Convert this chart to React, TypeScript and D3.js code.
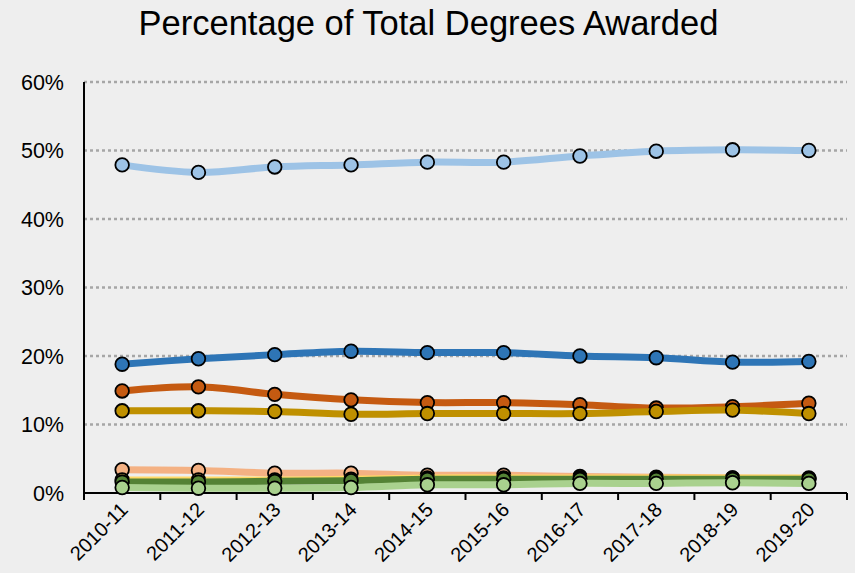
import React from "react";
import * as d3 from "d3";

const categories = ["2010-11", "2011-12", "2012-13", "2013-14", "2014-15", "2015-16", "2016-17", "2017-18", "2018-19", "2019-20"];
const lightBlue = [47.9, 46.8, 47.6, 47.9, 48.3, 48.3, 49.2, 49.9, 50.1, 50.0];
const darkBlue = [18.8, 19.6, 20.2, 20.7, 20.5, 20.5, 20.0, 19.75, 19.1, 19.2];
const orange = [14.9, 15.5, 14.4, 13.6, 13.2, 13.2, 12.9, 12.4, 12.6, 13.1];
const gold = [12.0, 12.0, 11.9, 11.5, 11.6, 11.6, 11.6, 11.9, 12.1, 11.6];
const peach = [3.4, 3.3, 2.9, 2.9, 2.6, 2.6, 2.4, 2.3, 2.2, 2.1];
const yellow = [1.9, 1.9, 1.9, 2.0, 2.2, 2.2, 2.2, 2.2, 2.2, 2.2];
const darkGreen = [1.6, 1.6, 1.7, 1.8, 2.0, 2.0, 2.0, 2.0, 2.0, 2.0];
const lightGreen = [0.8, 0.7, 0.7, 0.8, 1.2, 1.2, 1.4, 1.4, 1.5, 1.4];
const yTicks = [0, 10, 20, 30, 40, 50, 60];
const title = "Percentage of Total Degrees Awarded";

const series = [
  { name: "lightBlue", values: lightBlue, color: "#9DC3E6" },
  { name: "darkBlue", values: darkBlue, color: "#2E75B6" },
  { name: "orange", values: orange, color: "#C55A11" },
  { name: "gold", values: gold, color: "#BF9000" },
  { name: "peach", values: peach, color: "#F4B183" },
  { name: "yellow", values: yellow, color: "#FFD966" },
  { name: "darkGreen", values: darkGreen, color: "#548235" },
  { name: "lightGreen", values: lightGreen, color: "#A9D18E" },
];

const W = 855;
const H = 573;
const left = 84;
const right = 847;
const top = 82;
const bottom = 493;

export default function App() {
  const x = d3.scaleBand<string>().domain(categories).range([left, right]).padding(0);
  const y = d3.scaleLinear().domain([0, 60]).range([bottom, top]);
  const cx = (c: string) => (x(c) as number) + x.bandwidth() / 2;
  const line = d3
    .line<number>()
    .x((_, i) => cx(categories[i]))
    .y((v) => y(v))
    .curve(d3.curveCatmullRom.alpha(0.5));
  const font = "Arial, 'Liberation Sans', sans-serif";
  const boundaries = [...categories.map((c) => x(c) as number), right];

  return (
    <div style={{ position: "absolute", left: 0, top: 0, width: W, height: H }}>
      <svg width={W} height={H} style={{ display: "block", background: "#EEEEEE" }}>
        <rect x={0} y={0} width={W} height={H} fill="#EEEEEE" />
        <text x={W / 2 + 1} y={35} textAnchor="middle" fontFamily={font} fontSize={34.5} fill="#000">
          {title}
        </text>
        {yTicks.filter((t) => t > 0).map((t) => (
          <line key={"g" + t} x1={left} x2={right} y1={y(t)} y2={y(t)} stroke="#A6A6A6" strokeWidth={2.5} strokeDasharray="3,3" />
        ))}
        {yTicks.map((t) => (
          <text key={"yl" + t} x={64} y={y(t) + 7.5} textAnchor="end" fontFamily={font} fontSize={21.5} fill="#000">
            {t + "%"}
          </text>
        ))}
        <line x1={left} x2={left} y1={top} y2={bottom} stroke="#000" strokeWidth={2} />
        <line x1={left} x2={right} y1={bottom} y2={bottom} stroke="#000" strokeWidth={2} />
        {boundaries.map((b, i) => (
          <line key={"t" + i} x1={b} x2={b} y1={bottom} y2={bottom + 7} stroke="#000" strokeWidth={2} />
        ))}
        {categories.map((c) => (
          <text
            key={"xl" + c}
            transform={`translate(${cx(c) + 7},${bottom + 18}) rotate(-45)`}
            textAnchor="end"
            fontFamily={font}
            fontSize={20}
            fill="#000"
          >
            {c}
          </text>
        ))}
        {series.map((s) => (
          <g key={s.name}>
            <path d={line(s.values) || ""} fill="none" stroke={s.color} strokeWidth={7} strokeLinejoin="round" strokeLinecap="round" />
            {s.values.map((v, i) => (
              <circle key={i} cx={cx(categories[i])} cy={y(v)} r={6.8} fill={s.color} stroke="#000" strokeWidth={1.8} />
            ))}
          </g>
        ))}
      </svg>
    </div>
  );
}
